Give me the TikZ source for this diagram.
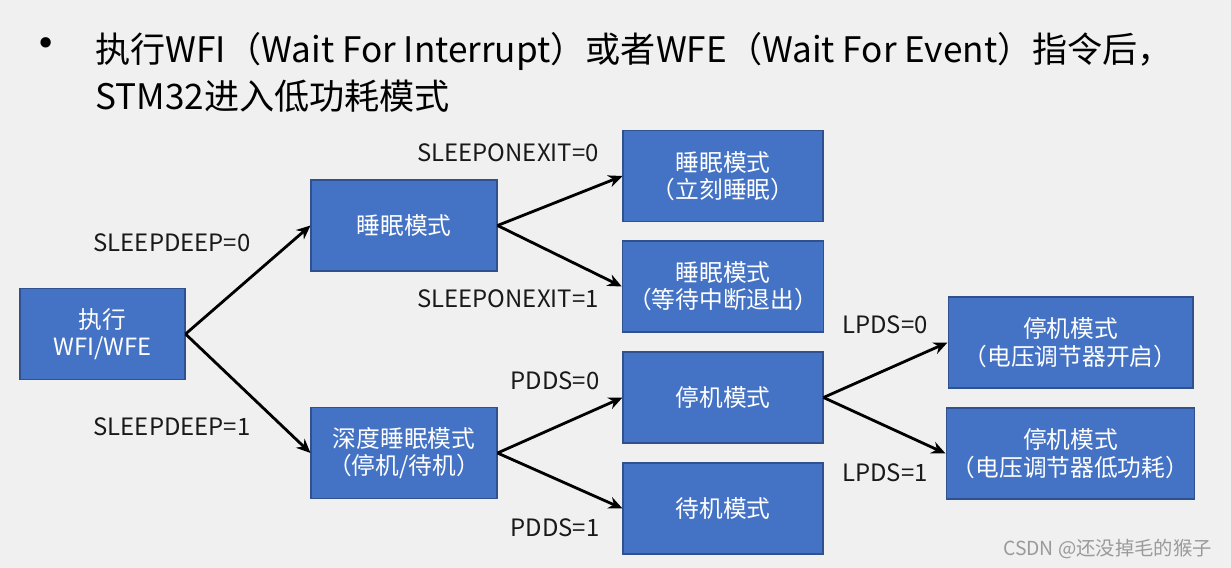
\documentclass[tikz,border=0pt]{standalone}
\usepackage{fontspec}
\setmainfont{Noto Sans CJK SC}
\usetikzlibrary{arrows.meta}
\definecolor{slidebg}{HTML}{F0F0F0}
\definecolor{boxblue}{HTML}{4472C4}
\definecolor{boxline}{HTML}{2F528F}
\definecolor{marktext}{HTML}{9A9A9A}
\begin{document}
\begin{tikzpicture}[x=0.02cm,y=-0.02cm,
	mode/.style={rectangle,draw=boxline,fill=boxblue,line width=0.6pt,text=white,align=center,
		minimum height=1.82cm,font=\fontsize{13.5}{15.5}\selectfont},
	cond/.style={font=\fontsize{13.6}{16}\selectfont,text=black!90},
	go/.style={-{Stealth[length=8pt,width=7pt]},line width=1.6pt}]
	
	\fill[slidebg] (0,0) rectangle (1231,568);
	\useasboundingbox (0,0) rectangle (1231,568);
	
	\node(bullet) at (46,50){\fontsize{28}{30}\selectfont •};
	
	\node(title) [anchor=west,align=left,inner sep=0pt,font=\fontsize{20}{26.8}\selectfont] at (95,72)
	{执行WFI（Wait For Interrupt）或者WFE（Wait For Event）指令后，\\STM32进入低功耗模式};
	
	\node(exec) [mode,minimum width=3.3cm] at (102.5,334){执行\\WFI/WFE};
	
	\node(sleep) [mode,minimum width=3.72cm] at (404,225.5){睡眠模式};
	
	\node(deepsleep) [mode,minimum width=3.72cm] at (404,453){深度睡眠模式\\（停机/待机）};
	
	\node(sleepnow) [mode,minimum width=4cm] at (723,176){睡眠模式\\（立刻睡眠）};
	
	\node(sleepexit) [mode,minimum width=4cm] at (723,286.5){睡眠模式\\（等待中断退出）};
	
	\node(stop) [mode,minimum width=4cm] at (723,397.5){停机模式};
	
	\node(standby) [mode,minimum width=4cm] at (723,508.5){待机模式};
	
	\node(stopon) [mode,minimum width=4.9cm] at (1070.5,342.5){停机模式\\（电压调节器开启）};
	
	\node(stoplow) [mode,minimum width=4.9cm] at (1070.5,453.5){停机模式\\（电压调节器低功耗）};
	
	\draw[go] (exec.east) -- (sleep.west);
	\draw[go] (exec.east) -- (deepsleep.west);
	\draw[go] (sleep.east) -- (sleepnow.west);
	\draw[go] (sleep.east) -- (sleepexit.west);
	\draw[go] (deepsleep.east) -- (stop.west);
	\draw[go] (deepsleep.east) -- (standby.west);
	\draw[go] (stop.east) -- (stopon.west);
	\draw[go] (stop.east) -- (stoplow.west);
	
	\node(deep0) [cond] at (172,243){SLEEPDEEP=0};
	\node(deep1) [cond] at (172,427){SLEEPDEEP=1};
	\node(exit0) [cond] at (508,153){SLEEPONEXIT=0};
	\node(exit1) [cond] at (508,299){SLEEPONEXIT=1};
	\node(pdds0) [cond] at (555,381){PDDS=0};
	\node(pdds1) [cond] at (555,528){PDDS=1};
	\node(lpds0) [cond] at (885,325){LPDS=0};
	\node(lpds1) [cond] at (885,473){LPDS=1};
	
	\node(mark) [anchor=east,text=marktext,font=\fontsize{11}{13}\selectfont] at (1218,549){CSDN @还没掉毛的猴子};
	
\end{tikzpicture}
\end{document}
